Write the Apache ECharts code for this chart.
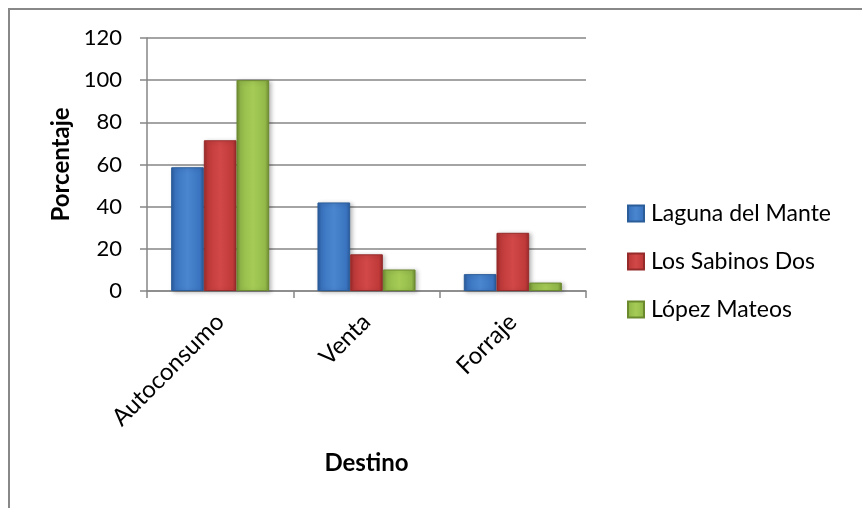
<!DOCTYPE html>
<html>
<head>
<meta charset="utf-8">
<script src="https://cdn.jsdelivr.net/npm/echarts@6/dist/echarts.min.js"></script>
<style>
  html, body { margin: 0; padding: 0; background: #fff; }
  #chart { width: 862px; height: 508px; }
</style>
</head>
<body>
<div id="chart"></div>
<script>
// datos
const categories = ['Autoconsumo', 'Venta', 'Forraje']
const lagunaDelMante = [58.7, 42, 8]
const losSabinosDos = [71.5, 17.4, 27.6]
const lopezMateos = [100, 10.2, 4]
const yTicks = [0, 20, 40, 60, 80, 100, 120]

const FONT = 'Lato, "Open Sans", sans-serif'

// degradado horizontal para imitar el bisel de Excel
const bevel = (dark, mid, light) => new echarts.graphic.LinearGradient(0, 0, 1, 0, [
  { offset: 0, color: dark },
  { offset: 0.12, color: mid },
  { offset: 0.5, color: light },
  { offset: 0.88, color: mid },
  { offset: 1, color: dark },
])

const palette = [
  { name: 'Laguna del Mante', data: lagunaDelMante, fill: bevel('#2a5a9a', '#3a74c0', '#4a86d0'), border: '#2b5d99' },
  { name: 'Los Sabinos Dos', data: losSabinosDos, fill: bevel('#9a2a2a', '#c03a3a', '#d24848'), border: '#962b2b' },
  { name: 'López Mateos', data: lopezMateos, fill: bevel('#6e8a30', '#93b94a', '#a6cc56'), border: '#6b8a2e' },
]

const chart = echarts.init(document.getElementById('chart'))

chart.setOption({
  animation: false,
  backgroundColor: '#fff',
  graphic: [{
    type: 'rect',
    shape: { x: 9, y: 9, width: 900, height: 600 },
    style: { fill: 'none', stroke: '#888', lineWidth: 2 },
    silent: true,
  }],
  grid: { left: 147, right: 276, top: 38, bottom: 217 },
  legend: {
    orient: 'vertical',
    left: 622,
    top: 197,
    itemWidth: 16,
    itemHeight: 16,
    itemGap: 25,
    icon: 'rect',
    textStyle: { fontFamily: FONT, fontSize: 23, lineHeight: 22, color: '#000', padding: [0, 0, 0, 2] },
    data: palette.map(p => p.name),
  },
  xAxis: {
    type: 'category',
    data: categories,
    name: 'Destino',
    nameLocation: 'middle',
    nameGap: 160,
    nameTextStyle: { fontFamily: FONT, fontSize: 24, fontWeight: 'bold', color: '#000' },
    axisLine: { lineStyle: { color: '#868686', width: 1.5 } },
    axisTick: { show: true, length: 7, lineStyle: { color: '#868686', width: 1.5 } },
    axisLabel: { rotate: 45, margin: 27, fontFamily: FONT, fontSize: 24, color: '#000' },
  },
  yAxis: {
    type: 'value',
    min: 0,
    max: yTicks[yTicks.length - 1],
    interval: yTicks[1] - yTicks[0],
    name: 'Porcentaje',
    nameLocation: 'middle',
    nameGap: 74,
    nameTextStyle: { fontFamily: FONT, fontSize: 24, fontWeight: 'bold', color: '#000' },
    axisLine: { show: true, lineStyle: { color: '#868686', width: 1.5 } },
    axisTick: { show: true, length: 7, lineStyle: { color: '#868686', width: 1.5 } },
    axisLabel: { margin: 25, fontFamily: FONT, fontSize: 22, color: '#000' },
    splitLine: { lineStyle: { color: '#868686', width: 1.5 } },
  },
  series: palette.map(p => ({
    name: p.name,
    type: 'bar',
    data: p.data,
    barGap: '0%',
    barCategoryGap: '33%',
    itemStyle: {
      color: p.fill,
      borderColor: p.border,
      borderWidth: 1,
      shadowColor: 'rgba(0,0,0,0.25)',
      shadowBlur: 4,
      shadowOffsetX: 2,
      shadowOffsetY: 1,
    },
  })),
})
</script>
</body>
</html>
